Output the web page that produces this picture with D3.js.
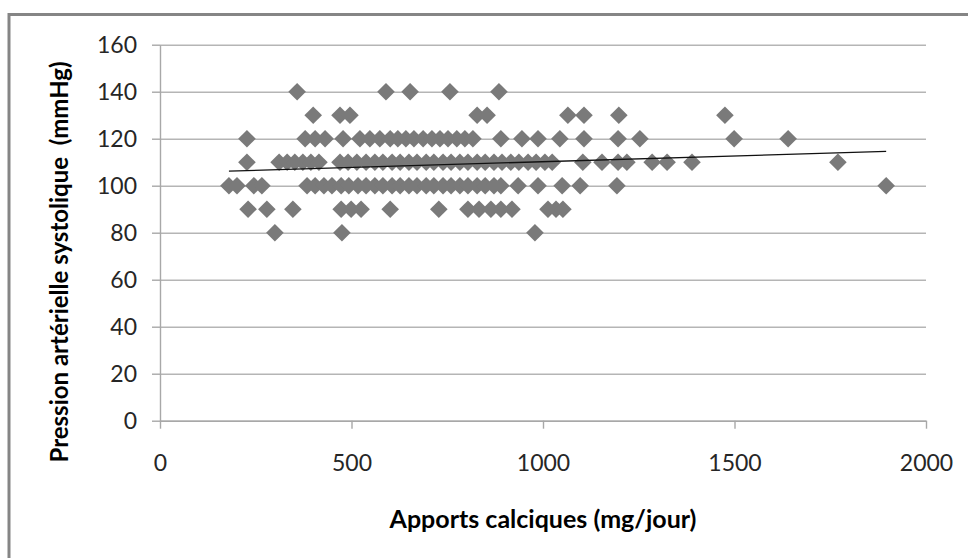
<!DOCTYPE html>
<html>
<head>
<meta charset="utf-8">
<script src="https://cdn.jsdelivr.net/npm/d3@7"></script>
<style>
    html, body { margin: 0; padding: 0; background: #fff; }
    svg { display: block; }
</style>
</head>
<body>
<div id="content"></div>
<script>
'use strict';

// apports calciques (mg/jour), par niveau de pression
var apports80 = [300, 475, 979];
var apports90 = [230, 279, 347, 473, 499, 525, 601, 728, 804, 833, 864, 890, 919, 1013, 1034, 1052];
var apports100 = [180, 201, 245, 266, 384, 405, 428, 449, 473, 493, 517, 538, 561, 582, 606, 627,
    650, 671, 695, 715, 739, 760, 783, 804, 828, 849, 872, 890, 935, 987, 1050, 1097, 1193, 1896];
var apports110 = [227, 311, 332, 352, 373, 394, 415, 470, 491, 514, 538, 561, 582, 606, 627, 650,
    671, 695, 715, 739, 760, 783, 804, 828, 849, 872, 893, 916, 937, 961, 982, 1005, 1024, 1104,
    1154, 1196, 1219, 1285, 1324, 1389, 1770];
var apports120 = [227, 379, 405, 431, 478, 522, 548, 574, 601, 621, 642, 663, 687, 710, 731, 752,
    775, 796, 817, 890, 945, 987, 1044, 1107, 1196, 1253, 1499, 1640];
var apports130 = [400, 470, 496, 828, 854, 1065, 1107, 1198, 1475];
var apports140 = [358, 590, 653, 757, 885];

var pressions = [80, 90, 100, 110, 120, 130, 140];
var xTicks = [0, 500, 1000, 1500, 2000];
var yTicks = [0, 20, 40, 60, 80, 100, 120, 140, 160];

var xTitle = 'Apports calciques (mg/jour)';
var yTitle = 'Pression artérielle systolique  (mmHg)';

function run() {
    var width = 968, height = 558;
    var plot = { left: 160, right: 926, top: 44.7, bottom: 420.7 };

    var svg = d3.select('#content')
        .append('svg')
        .attr('width', width)
        .attr('height', height);

    // cadre du graphique
    svg.append('path')
        .attr('d', 'M9,' + height + 'V14.5H' + width)
        .attr('fill', 'none')
        .attr('stroke', '#858585')
        .attr('stroke-width', 3);

    var points = [];
    [apports80, apports90, apports100, apports110, apports120, apports130, apports140]
        .forEach(function (list, i) {
            list.forEach(function (a) {
                points.push({ x: a, y: pressions[i] });
            });
        });

    var x = d3.scaleLinear()
        .domain([0, 2000])
        .range([plot.left, plot.right]);

    var y = d3.scaleLinear()
        .domain([0, 160])
        .range([plot.bottom, plot.top]);

    // grille horizontale
    svg.append('g')
        .attr('class', 'grid')
        .attr('transform', 'translate(' + plot.left + ' 0)')
        .call(d3.axisLeft(y)
            .tickValues(yTicks)
            .tickSize(-(plot.right - plot.left))
            .tickFormat(''))
        .call(function (g) {
            g.select('.domain').remove();
            g.selectAll('line').attr('stroke', '#b5b5b5').attr('stroke-width', 1.4);
        });

    var yAxis = svg.append('g')
        .attr('transform', 'translate(' + plot.left + ' 0)')
        .call(d3.axisLeft(y)
            .tickValues(yTicks)
            .tickSize(8)
            .tickSizeOuter(0)
            .tickPadding(15));

    var xAxis = svg.append('g')
        .attr('transform', 'translate(0 ' + plot.bottom + ')')
        .call(d3.axisBottom(x)
            .tickValues(xTicks)
            .tickSize(8)
            .tickSizeOuter(0)
            .tickPadding(26)
            .tickFormat(d3.format('d')));

    [xAxis, yAxis].forEach(function (g) {
        g.select('.domain').attr('stroke', '#a8a8a8').attr('stroke-width', 1.4);
        g.selectAll('.tick line').attr('stroke', '#a8a8a8').attr('stroke-width', 1.4);
        g.selectAll('.tick text')
            .attr('fill', '#262626')
            .style('font', '23px Lato, "Open Sans", sans-serif');
    });

    // points
    svg.append('g')
        .selectAll('path')
        .data(points)
        .enter()
        .append('path')
        .attr('d', d3.symbol(d3.symbolSquare, 155))
        .attr('transform', function (d) {
            return 'translate(' + x(d.x) + ' ' + y(d.y) + ') rotate(45)';
        })
        .attr('fill', '#7a7a7a');

    // droite de tendance (moindres carrés)
    var mx = d3.mean(points, function (d) { return d.x; });
    var my = d3.mean(points, function (d) { return d.y; });
    var sxy = d3.sum(points, function (d) { return (d.x - mx) * (d.y - my); });
    var sxx = d3.sum(points, function (d) { return (d.x - mx) * (d.x - mx); });
    var slope = sxy / sxx;
    var intercept = my - slope * mx;
    var ext = d3.extent(points, function (d) { return d.x; });

    svg.append('line')
        .attr('x1', x(ext[0]))
        .attr('y1', y(intercept + slope * ext[0]))
        .attr('x2', x(ext[1]))
        .attr('y2', y(intercept + slope * ext[1]))
        .attr('stroke', '#111')
        .attr('stroke-width', 1.3);

    svg.append('text')
        .attr('x', (plot.left + plot.right) / 2)
        .attr('y', 519)
        .attr('dy', '0.35em')
        .attr('text-anchor', 'middle')
        .style('font', 'bold 25px Lato, "Open Sans", sans-serif')
        .text(xTitle);

    svg.append('text')
        .attr('transform', 'translate(60 262) rotate(-90)')
        .attr('dy', '0.35em')
        .attr('text-anchor', 'middle')
        .style('font', 'bold 24px Lato, "Open Sans", sans-serif')
        .style('white-space', 'pre')
        .text(yTitle);
}

document.addEventListener('DOMContentLoaded', run);
</script>
</body>
</html>
